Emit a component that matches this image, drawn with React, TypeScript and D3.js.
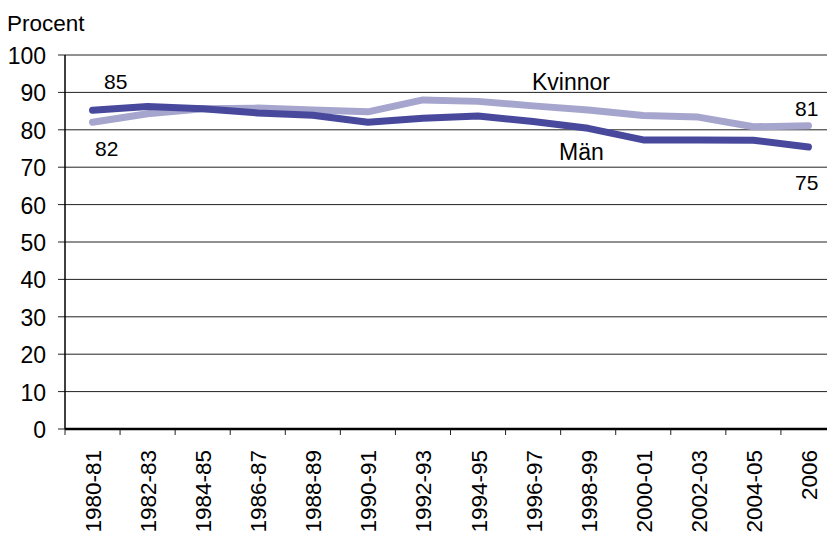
import React from "react";
import * as d3 from "d3";

const categories = ["1980-81","1982-83","1984-85","1986-87","1988-89","1990-91","1992-93","1994-95","1996-97","1998-99","2000-01","2002-03","2004-05","2006"];
const man = [85.2, 86.2, 85.6, 84.5, 83.9, 82.0, 83.1, 83.7, 82.2, 80.4, 77.3, 77.3, 77.2, 75.4];
const kvinnor = [82.0, 84.3, 85.6, 85.8, 85.3, 84.8, 88.0, 87.6, 86.4, 85.3, 83.8, 83.4, 80.8, 81.1];
const yTicks = [0, 10, 20, 30, 40, 50, 60, 70, 80, 90, 100];

const W = 827, H = 534;
const left = 65, right = 836, top = 55, bottom = 429;
const FONT = "'Liberation Sans', Arial, sans-serif";

export default function App() {
  const x = d3.scaleBand<string>().domain(categories).range([left, right]);
  const y = d3.scaleLinear().domain([0, 100]).range([bottom, top]);
  const cx = (c: string) => (x(c) as number) + x.bandwidth() / 2;
  const line = d3.line<number>().x((_, i) => cx(categories[i])).y((d) => y(d));
  const tickXs = categories.map((c) => x(c) as number).concat([right]);
  return (
    <svg width={W} height={H} style={{ position: "absolute", left: 0, top: 0, fontFamily: FONT }}>
      <rect width={W} height={H} fill="#fff" />
      <text x={7} y={31} fontSize={22.5} fill="#000">Procent</text>
      {yTicks.map((t) => (
        <g key={t}>
          {t > 0 && <line x1={left} x2={right} y1={y(t)} y2={y(t)} stroke="#222" strokeWidth={1} />}
          <line x1={left - 7} x2={left} y1={y(t)} y2={y(t)} stroke="#222" strokeWidth={1} />
          <text x={46} y={y(t) + 1} fontSize={23} textAnchor="end" dominantBaseline="central" fill="#000">{t}</text>
        </g>
      ))}
      {tickXs.map((tx, i) => (
        <line key={i} x1={tx} x2={tx} y1={bottom} y2={bottom + 6} stroke="#222" strokeWidth={1} />
      ))}
      <line x1={left} x2={left} y1={top} y2={bottom} stroke="#000" strokeWidth={1.5} />
      <line x1={left} x2={right} y1={bottom} y2={bottom} stroke="#000" strokeWidth={2.5} />
      {categories.map((c) => (
        <text key={c} transform={`translate(${cx(c) + 1},${450}) rotate(-90)`} fontSize={22.5} textAnchor="end" dominantBaseline="central" fill="#000">{c}</text>
      ))}
      <path d={line(kvinnor) || ""} fill="none" stroke="#A5A5CD" strokeWidth={7} strokeLinejoin="round" strokeLinecap="round" />
      <path d={line(man) || ""} fill="none" stroke="#48489C" strokeWidth={7} strokeLinejoin="round" strokeLinecap="round" />
      <text x={104} y={89} fontSize={21} fill="#000">85</text>
      <text x={95} y={156} fontSize={21} fill="#000">82</text>
      <text x={532} y={90} fontSize={23} fill="#000">Kvinnor</text>
      <text x={559} y={160} fontSize={23} fill="#000">Män</text>
      <text x={795} y={116} fontSize={21} fill="#000">81</text>
      <text x={795} y={190} fontSize={21} fill="#000">75</text>
    </svg>
  );
}
